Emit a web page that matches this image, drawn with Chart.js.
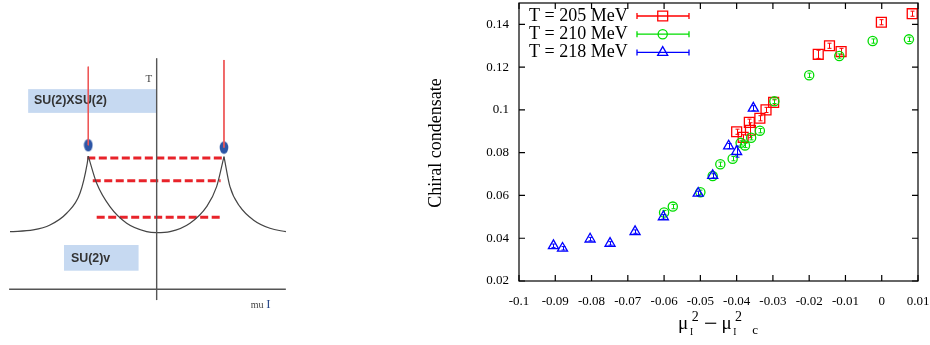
<!DOCTYPE html>
<html>
<head>
<meta charset="utf-8">
<script src="https://cdn.jsdelivr.net/npm/chart.js@4.4.0/dist/chart.umd.min.js"></script>
<style>
  html, body { margin: 0; padding: 0; background: #fff; }
  #wrap { position: relative; width: 930px; height: 345px; overflow: hidden; }
  #phaseChart { position: absolute; left: 0; top: 0; }
  #condChart { position: absolute; left: 300px; top: 0; }
</style>
</head>
<body>
<div id="wrap">
  <canvas id="phaseChart" width="300" height="345"></canvas>
  <canvas id="condChart" width="630" height="345"></canvas>
</div>
<script>
// ---- left: schematic phase diagram (mu_I along x, T along y) ----
const axisMuX = [-2.17, 1.90];
const axisTY = [-0.15, 3.21];
const leftCurveMu = [-2.157, -1.815, -1.569, -1.324, -1.128, -1.021, -1.006];
const leftCurveT = [0.80, 0.824, 0.893, 1.056, 1.333, 1.75, 1.85];
const midCurveMu = [-1.006, -0.882, -0.687, -0.441, -0.147, 0, 0.196, 0.49, 0.735, 0.882, 0.99];
const midCurveT = [1.85, 1.472, 1.147, 0.917, 0.80, 0.786, 0.80, 0.917, 1.147, 1.425, 1.842];
const rightCurveMu = [0.99, 1.078, 1.225, 1.421, 1.666, 1.901];
const rightCurveT = [1.842, 1.425, 1.147, 0.963, 0.847, 0.80];
const criticalMu = [-1.006, 0.99];
const criticalT = [2.0, 1.968];
const criticalTopT = [3.092, 3.185];
const dashT = [1.824, 1.508, 1.0];
const dashFrom = [-1.02, -0.94, -0.882];
const dashTo = [0.99, 0.94, 0.94];
const phaseLabels = ['SU(2)XSU(2)', 'SU(2)v'];
const boxMu = [[-1.89, 0], [-1.363, -0.266]];
const boxT = [[2.45, 2.78], [0.258, 0.615]];
const labelMu = [-1.804, -1.26];
const labelT = [2.615, 0.428];

// ---- right: chiral condensate vs mu_I^2 - mu_Ic^2 ----
const xTickValues = [-0.1, -0.09, -0.08, -0.07, -0.06, -0.05, -0.04, -0.03, -0.02, -0.01, 0, 0.01];
const xTickLabels = ['-0.1', '-0.09', '-0.08', '-0.07', '-0.06', '-0.05', '-0.04', '-0.03', '-0.02', '-0.01', '0', '0.01'];
const yTickValues = [0.02, 0.04, 0.06, 0.08, 0.1, 0.12, 0.14];
const yTickLabels = ['0.02', '0.04', '0.06', '0.08', '0.1', '0.12', '0.14'];

const seriesLabels = ['T = 205 MeV', 'T = 210 MeV', 'T = 218 MeV'];
const mu205 = [0.0084, -0.0001, -0.0112, -0.0144, -0.0175, -0.0298, -0.0319, -0.0336, -0.0365, -0.0400, -0.0382, -0.0362];
const chi205 = [0.145, 0.141, 0.1273, 0.130, 0.126, 0.1035, 0.100, 0.0961, 0.0942, 0.0898, 0.0872, 0.0905];
const err205 = [0.0012, 0.0012, 0.0015, 0.0012, 0.0019, 0.0012, 0.0012, 0.0012, 0.0015, 0.0012, 0.0012, 0.0035];
const mu210 = [0.0075, -0.0025, -0.0117, -0.0200, -0.0296, -0.0336, -0.0360, -0.0377, -0.0389, -0.0411, -0.0445, -0.0466, -0.0500, -0.0576, -0.0600];
const chi210 = [0.133, 0.1322, 0.1252, 0.1162, 0.104, 0.0903, 0.087, 0.0834, 0.0846, 0.0772, 0.0746, 0.0691, 0.0615, 0.0548, 0.0520];
const err210 = [0.0010, 0.0010, 0.0010, 0.0010, 0.0010, 0.0010, 0.0010, 0.0010, 0.0010, 0.0010, 0.0010, 0.0010, 0.0010, 0.0010, 0.0010];
const mu218 = [-0.0354, -0.0422, -0.0400, -0.0466, -0.0506, -0.0602, -0.0680, -0.0749, -0.0804, -0.0880, -0.0905];
const chi218 = [0.1008, 0.0831, 0.0805, 0.0693, 0.0610, 0.0500, 0.0431, 0.0376, 0.0396, 0.0353, 0.0365];
const err218 = [0.0012, 0.0012, 0.0026, 0.0012, 0.0010, 0.0010, 0.0008, 0.0008, 0.0008, 0.0008, 0.0008];

const pts = (xs, ys) => xs.map((v, i) => ({ x: v, y: ys[i] }));
const line = (xs, ys, opts) => Object.assign({
  data: pts(xs, ys), showLine: true, pointRadius: 0, fill: false, borderWidth: 1.2
}, opts);

// blue ellipse for the critical points
const dot = document.createElement('canvas');
dot.width = 10; dot.height = 14;
{
  const c = dot.getContext('2d');
  c.fillStyle = '#2d56a6';
  c.beginPath();
  c.ellipse(5, 7, 4.3, 6.2, 0, 0, Math.PI * 2);
  c.fill();
}

const phaseBoxes = {
  id: 'phaseBoxes',
  beforeDatasetsDraw(chart) {
    const { ctx, scales: { x, y } } = chart;
    ctx.save();
    ctx.fillStyle = '#c6d9f1';
    boxMu.forEach((b, i) => {
      const x0 = x.getPixelForValue(b[0]), x1 = x.getPixelForValue(b[1]);
      const y0 = y.getPixelForValue(boxT[i][1]), y1 = y.getPixelForValue(boxT[i][0]);
      ctx.fillRect(x0, y0, x1 - x0, y1 - y0);
    });
    ctx.fillStyle = '#333';
    ctx.font = 'bold 12.4px "Liberation Sans", Arial, sans-serif';
    ctx.textBaseline = 'middle';
    phaseLabels.forEach((t, i) => {
      ctx.fillText(t, x.getPixelForValue(labelMu[i]), y.getPixelForValue(labelT[i]));
    });
    ctx.restore();
  },
  afterDatasetsDraw(chart) {
    const { ctx, scales: { x, y } } = chart;
    ctx.save();
    ctx.textBaseline = 'middle';
    ctx.fillStyle = '#444';
    ctx.font = '11px "Liberation Serif", serif';
    ctx.textAlign = 'center';
    ctx.fillText('T', x.getPixelForValue(-0.113), y.getPixelForValue(2.925));
    ctx.textAlign = 'left';
    ctx.font = '10px "Liberation Serif", serif';
    ctx.fillText('mu', x.getPixelForValue(1.382), y.getPixelForValue(-0.218));
    ctx.font = '13px "Liberation Serif", serif';
    ctx.fillStyle = '#2a4a8a';
    ctx.fillText('I', x.getPixelForValue(1.61), y.getPixelForValue(-0.218));
    ctx.restore();
  }
};

const phaseSets = [
  line(axisMuX, [0, 0], { borderColor: '#555', borderWidth: 1.4 }),
  line([0, 0], axisTY, { borderColor: '#555', borderWidth: 1.4 }),
  line(leftCurveMu, leftCurveT, { borderColor: '#444', cubicInterpolationMode: 'monotone' }),
  line(midCurveMu, midCurveT, { borderColor: '#444', cubicInterpolationMode: 'monotone' }),
  line(rightCurveMu, rightCurveT, { borderColor: '#444', cubicInterpolationMode: 'monotone' }),
  line([criticalMu[0], criticalMu[0]], [criticalTopT[0], criticalT[0]], { borderColor: '#ee5555', borderWidth: 1 }),
  line([criticalMu[1], criticalMu[1]], [criticalTopT[1], criticalT[1]], { borderColor: '#ee5555', borderWidth: 1 })
];
dashT.forEach((t, i) => {
  phaseSets.push(line([dashFrom[i], dashTo[i]], [t, t], { borderColor: '#e8232a', borderWidth: 3, borderDash: [8, 3.5] }));
});
phaseSets.push({ data: pts(criticalMu, criticalT), pointStyle: dot, pointRadius: 6 });

new Chart(document.getElementById('phaseChart'), {
  type: 'scatter',
  data: { datasets: phaseSets },
  options: {
    responsive: false,
    animation: false,
    layout: { autoPadding: false, padding: 0 },
    plugins: { legend: { display: false }, tooltip: { enabled: false } },
    scales: {
      x: { display: false, min: -2.304, max: 2.108 },
      y: { display: false, min: -0.774, max: 4.018 }
    }
  },
  plugins: [phaseBoxes]
});

// ---- right chart plugins ----
const serif = '"Liberation Serif", "Times New Roman", serif';
const colors = ['#ff0000', '#00dd00', '#0000ff'];
const styles = ['rect', 'circle', 'triangle'];
const radii = [7, 4.6, 5.8];

function marker(ctx, style, x, y, r) {
  ctx.beginPath();
  if (style === 'rect') {
    const s = r * Math.SQRT1_2;
    ctx.rect(x - s, y - s, 2 * s, 2 * s);
  } else if (style === 'circle') {
    ctx.arc(x, y, r, 0, Math.PI * 2);
  } else {
    for (let k = 0; k < 3; k++) {
      const a = k * 2 * Math.PI / 3;
      const px = x + Math.sin(a) * r, py = y - Math.cos(a) * r;
      k ? ctx.lineTo(px, py) : ctx.moveTo(px, py);
    }
    ctx.closePath();
  }
  ctx.stroke();
}

const errorBars = {
  id: 'errorBars',
  afterDatasetDraw(chart, args) {
    const ds = chart.data.datasets[args.index];
    if (!ds.errors) return;
    const { ctx, scales: { x, y } } = chart;
    ctx.save();
    ctx.strokeStyle = ds.borderColor;
    ctx.lineWidth = 1;
    ds.data.forEach((p, i) => {
      const px = Math.round(x.getPixelForValue(p.x)) + 0.5;
      const lo = y.getPixelForValue(p.y - ds.errors[i]);
      const hi = y.getPixelForValue(p.y + ds.errors[i]);
      ctx.beginPath();
      ctx.moveTo(px, lo); ctx.lineTo(px, hi);
      ctx.moveTo(px - 2, lo); ctx.lineTo(px + 2, lo);
      ctx.moveTo(px - 2, hi); ctx.lineTo(px + 2, hi);
      ctx.stroke();
    });
    ctx.restore();
  }
};

const frame = {
  id: 'frame',
  afterDraw(chart) {
    const { ctx, chartArea: a, scales: { x, y } } = chart;
    ctx.save();
    ctx.strokeStyle = '#000';
    ctx.lineWidth = 1.2;
    ctx.strokeRect(a.left, a.top, a.right - a.left, a.bottom - a.top);
    ctx.beginPath();
    xTickValues.forEach(v => {
      const px = x.getPixelForValue(v);
      ctx.moveTo(px, a.bottom); ctx.lineTo(px, a.bottom - 6);
      ctx.moveTo(px, a.top); ctx.lineTo(px, a.top + 6);
    });
    yTickValues.forEach(v => {
      const py = y.getPixelForValue(v);
      ctx.moveTo(a.left, py); ctx.lineTo(a.left + 6, py);
      ctx.moveTo(a.right, py); ctx.lineTo(a.right - 6, py);
    });
    ctx.stroke();

    // y title
    ctx.fillStyle = '#000';
    ctx.save();
    ctx.translate(136, 143);
    ctx.rotate(-Math.PI / 2);
    ctx.font = '18px ' + serif;
    ctx.textAlign = 'center';
    ctx.textBaseline = 'middle';
    ctx.fillText('Chiral condensate', 0, 0);
    ctx.restore();

    // x title: mu_I^2 - mu_I^2_c
    ctx.textAlign = 'left';
    ctx.textBaseline = 'alphabetic';
    const big = '19px ' + serif, sub = '9.5px ' + serif, sup = '14px ' + serif;
    ctx.font = big; ctx.fillText('\u03bc', 378, 329);
    ctx.font = sub; ctx.fillText('I', 390, 334.7);
    ctx.font = sup; ctx.fillText('2', 391.7, 320.7);
    ctx.font = '24px ' + serif; ctx.fillText('\u2212', 404, 330.5);
    ctx.font = big; ctx.fillText('\u03bc', 421.5, 329);
    ctx.font = sub; ctx.fillText('I', 433.3, 334.7);
    ctx.font = sup; ctx.fillText('2', 435, 320.7);
    ctx.font = '13px ' + serif; ctx.fillText('c', 452.3, 334);

    // key
    ctx.font = '18px ' + serif;
    ctx.textBaseline = 'middle';
    seriesLabels.forEach((t, i) => {
      const ly = 16 + i * 18.2;
      ctx.fillStyle = '#000';
      ctx.fillText(t, 229, ly);
      ctx.strokeStyle = colors[i];
      ctx.lineWidth = 1.3;
      ctx.beginPath();
      ctx.moveTo(337, ly); ctx.lineTo(389, ly);
      ctx.moveTo(337, ly - 3); ctx.lineTo(337, ly + 3);
      ctx.moveTo(389, ly - 3); ctx.lineTo(389, ly + 3);
      ctx.stroke();
      marker(ctx, styles[i], 362.7, ly, radii[i]);
    });
    ctx.restore();
  }
};

const condSets = [
  [mu205, chi205, err205],
  [mu210, chi210, err210],
  [mu218, chi218, err218]
].map((s, i) => ({
  label: seriesLabels[i],
  data: pts(s[0], s[1]),
  errors: s[2],
  order: 3 - i,
  borderColor: colors[i],
  backgroundColor: 'rgba(0,0,0,0)',
  pointStyle: styles[i],
  pointRadius: radii[i],
  pointBorderWidth: 1.3,
  clip: 10
}));

new Chart(document.getElementById('condChart'), {
  type: 'scatter',
  data: { datasets: condSets },
  options: {
    responsive: false,
    animation: false,
    layout: { autoPadding: false, padding: { top: 3, right: 12, left: 0, bottom: 0 } },
    plugins: { legend: { display: false }, tooltip: { enabled: false } },
    scales: {
      x: {
        type: 'linear', min: -0.1, max: 0.01,
        afterBuildTicks: s => { s.ticks = xTickValues.map(v => ({ value: v })); },
        afterFit: s => { s.height = 64; s.paddingLeft = 0; s.paddingRight = 0; },
        grid: { display: false, drawTicks: false },
        border: { display: false },
        ticks: {
          padding: 13, color: '#000', maxRotation: 0, autoSkip: false,
          font: { family: serif, size: 13 },
          callback: (v, i) => xTickLabels[i]
        }
      },
      y: {
        type: 'linear', min: 0.02, max: 0.15,
        afterBuildTicks: s => { s.ticks = yTickValues.map(v => ({ value: v })); },
        afterFit: s => { s.width = 219; s.paddingTop = 0; s.paddingBottom = 0; },
        grid: { display: false, drawTicks: false },
        border: { display: false },
        ticks: {
          padding: 10, color: '#000', autoSkip: false,
          font: { family: serif, size: 13 },
          callback: (v, i) => yTickLabels[i]
        }
      }
    }
  },
  plugins: [errorBars, frame]
});
</script>
</body>
</html>
